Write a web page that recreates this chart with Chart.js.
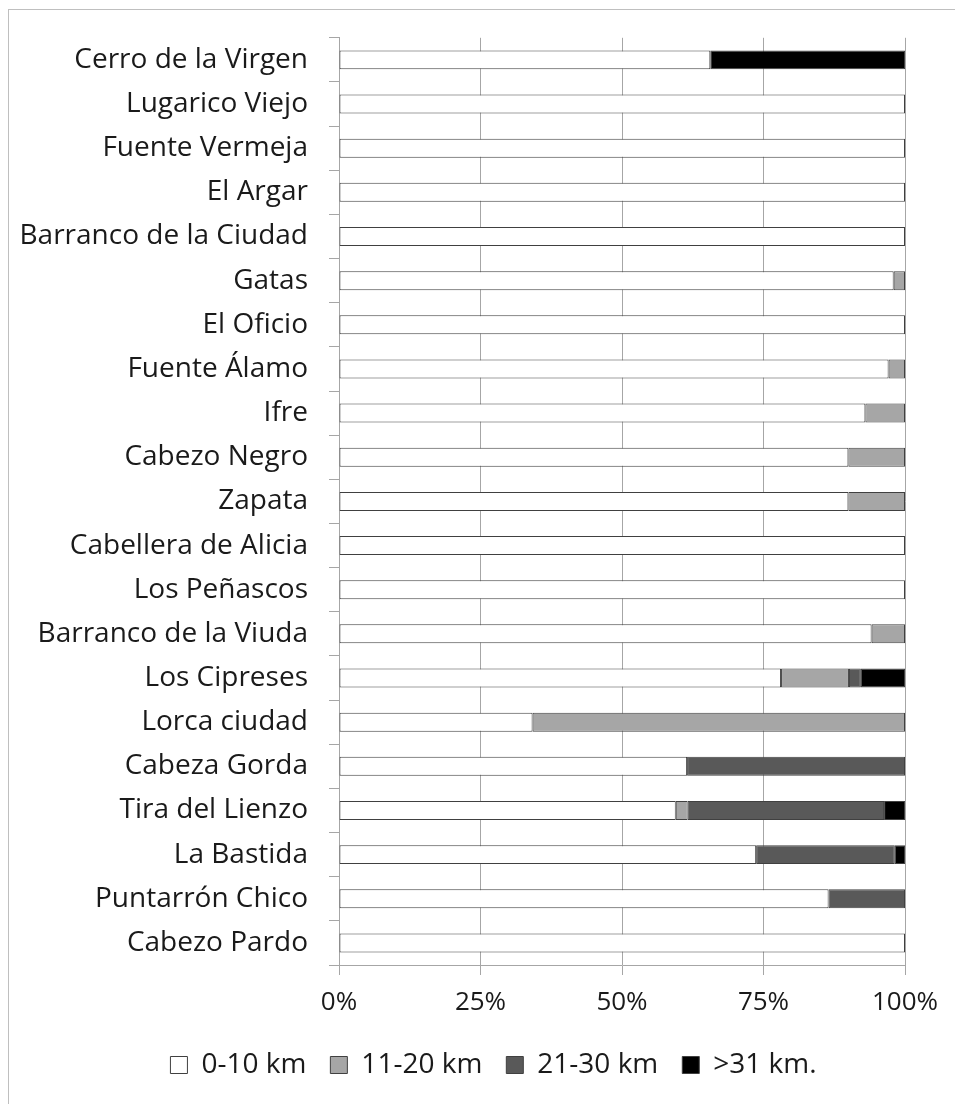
<!DOCTYPE html>
<html>
<head>
<meta charset="utf-8">
<script src="https://cdn.jsdelivr.net/npm/chart.js@4"></script>
<style>
  body { margin: 0; background: #fff; }
  #frame { position: absolute; left: 8px; top: 9px; width: 960px; height: 1100px; border: 1px solid #bfbfbf; }
  #wrap { position: absolute; left: 0; top: 0; width: 955px; height: 1104px; }
</style>
</head>
<body>
<div id="frame"></div>
<div id="wrap"><canvas id="chart" width="955" height="1104"></canvas></div>
<script>
const sites = [
    "Cerro de la Virgen", "Lugarico Viejo", "Fuente Vermeja", "El Argar",
    "Barranco de la Ciudad", "Gatas", "El Oficio", "Fuente Álamo", "Ifre",
    "Cabezo Negro", "Zapata", "Cabellera de Alicia", "Los Peñascos",
    "Barranco de la Viuda", "Los Cipreses", "Lorca ciudad", "Cabeza Gorda",
    "Tira del Lienzo", "La Bastida", "Puntarrón Chico", "Cabezo Pardo"
];

// percentage of each distance band, same order as sites
const km0to10 = [65.6, 100, 100, 100, 100, 98, 100, 97.1, 93, 90, 90, 100, 100, 94.1, 78.1, 34.2, 61.5, 59.5, 73.7, 86.5, 100];
const km11to20 = [0, 0, 0, 0, 0, 2, 0, 2.9, 7, 10, 10, 0, 0, 5.9, 12, 65.8, 0, 2.1, 0, 0, 0];
const km21to30 = [0, 0, 0, 0, 0, 0, 0, 0, 0, 0, 0, 0, 0, 0, 2.1, 0, 38.5, 34.7, 24.5, 13.5, 0];
const km31plus = [34.4, 0, 0, 0, 0, 0, 0, 0, 0, 0, 0, 0, 0, 0, 7.8, 0, 0, 3.7, 1.8, 0, 0];

const xTicks = [0, 25, 50, 75, 100];

const font = "'Open Sans', sans-serif";
const textColor = "#1a1a1a";

function band(label, data, color) {
    return {
        label: label,
        data: data,
        backgroundColor: color,
        borderColor: "#404040",
        borderWidth: 1,
        borderSkipped: false,
        barPercentage: 0.43,
        categoryPercentage: 1.0
    };
}

// legend sits a bit right of the plot centre in the original
const legendShift = {
    id: "legendShift",
    afterLayout(chart) {
        chart.legend.left += 31;
        chart.legend.right += 31;
    }
};

new Chart(document.getElementById("chart"), {
    type: "bar",
    data: {
        labels: sites,
        datasets: [
            band("0-10 km", km0to10, "#ffffff"),
            band("11-20 km", km11to20, "#a6a6a6"),
            band("21-30 km", km21to30, "#595959"),
            band(">31 km.", km31plus, "#000000")
        ]
    },
    plugins: [legendShift],
    options: {
        indexAxis: "y",
        responsive: false,
        animation: false,
        layout: { padding: { top: 37, right: 50, bottom: 15, left: 20 } },
        plugins: {
            tooltip: { enabled: false },
            legend: {
                position: "bottom",
                labels: {
                    font: { family: font, size: 28 },
                    color: textColor,
                    boxWidth: 17,
                    boxHeight: 17,
                    padding: 24
                }
            }
        },
        scales: {
            x: {
                stacked: true,
                min: 0,
                max: 100,
                afterBuildTicks: (scale) => { scale.ticks = xTicks.map(v => ({ value: v })); },
                afterFit: (scale) => { scale.height = 62; },
                ticks: {
                    callback: (v) => v + "%",
                    font: { family: font, size: 26 },
                    color: textColor,
                    padding: 12,
                    maxRotation: 0
                },
                grid: { color: "#a6a6a6", tickLength: 10 },
                border: { color: "#a6a6a6" }
            },
            y: {
                stacked: true,
                afterFit: (scale) => { scale.width = 319; },
                ticks: {
                    font: { family: font, size: 28 },
                    color: textColor,
                    padding: 21
                },
                grid: { color: "#a6a6a6", drawOnChartArea: false, tickLength: 10 },
                border: { color: "#a6a6a6" }
            }
        }
    }
});
</script>
</body>
</html>
